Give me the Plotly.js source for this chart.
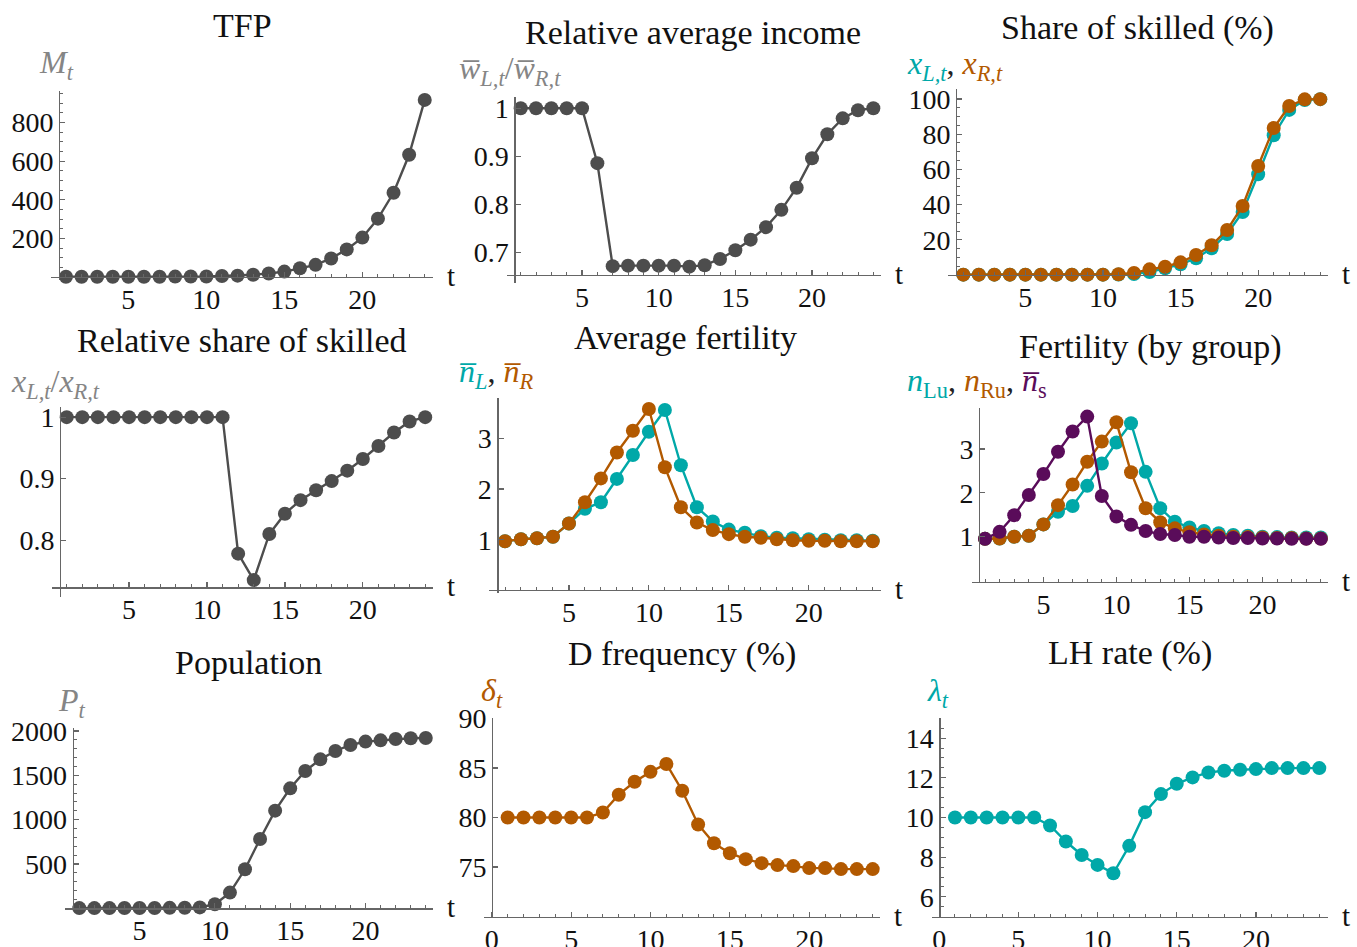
<!DOCTYPE html>
<html><head><meta charset="utf-8">
<script src="https://cdn.plot.ly/plotly-3.0.1.min.js"></script>
<style>body{margin:0;background:#fff}#chart{width:1357px;height:947px}</style>
</head><body><div id="chart"></div>
<script>
// ---------------- data ----------------
const t = [1,2,3,4,5,6,7,8,9,10,11,12,13,14,15,16,17,18,19,20,21,22,23,24];
const tfp = [1,1,1,1,1,1,1.5,2,2.5,3,5,7,12,18,28,45,63,96,143,204,302,436,633,917];
const relIncome = [1,1,1,1,1,0.886,0.672,0.673,0.673,0.673,0.673,0.671,0.674,0.687,0.705,0.727,0.753,0.789,0.835,0.896,0.946,0.979,0.996,1];
const skilledL = [0.2,0.2,0.2,0.2,0.2,0.2,0.2,0.2,0.2,0.2,0.3,0.6,1.7,3.8,6.1,9.5,15.2,23.3,35.8,57.2,79.4,93.8,99.4,99.9];
const skilledR = [0.2,0.2,0.2,0.2,0.2,0.2,0.2,0.2,0.2,0.2,0.4,1.2,3.2,4.7,7.2,11.4,16.9,25.6,39.2,61.9,83.5,96.0,99.8,99.9];
const relSkilled = [1,1,1,1,1,1,1,1,1,1,1,0.778,0.735,0.810,0.843,0.865,0.881,0.896,0.913,0.932,0.953,0.975,0.993,1.0];
const fertL = [0.97,1.01,1.03,1.06,1.32,1.61,1.74,2.20,2.67,3.13,3.56,2.47,1.64,1.36,1.20,1.14,1.07,1.04,1.03,1.01,1.0,0.99,0.99,0.98];
const fertR = [0.97,1.01,1.03,1.06,1.32,1.74,2.21,2.72,3.15,3.58,2.43,1.64,1.34,1.19,1.11,1.06,1.04,1.01,0.99,0.98,0.98,0.97,0.97,0.97];
const fertLu = [0.95,0.96,1.0,1.02,1.28,1.57,1.70,2.16,2.67,3.15,3.59,2.48,1.65,1.34,1.21,1.13,1.08,1.04,1.02,1.0,0.99,0.98,0.98,0.98];
const fertRu = [0.95,0.96,1.0,1.02,1.28,1.72,2.19,2.71,3.17,3.61,2.47,1.65,1.33,1.19,1.10,1.05,1.02,1.0,0.99,0.98,0.97,0.97,0.96,0.96];
const fertS = [0.95,1.11,1.49,1.95,2.43,2.94,3.40,3.74,1.93,1.46,1.27,1.13,1.06,1.04,1.0,1.0,0.98,0.97,0.97,0.96,0.96,0.95,0.95,0.95];
const population = [2,2,2,3,3,4,5,6,10,45,177,440,782,1101,1353,1549,1680,1774,1842,1880,1894,1910,1918,1920];
const dFreq = [80,80,80,80,80,80,80.5,82.3,83.6,84.6,85.4,82.7,79.3,77.4,76.4,75.8,75.4,75.2,75.1,74.9,74.9,74.8,74.8,74.8];
const lhRate = [10,10,10,10,10,10,9.6,8.79,8.11,7.61,7.19,8.57,10.27,11.18,11.70,12.02,12.27,12.36,12.41,12.44,12.49,12.49,12.49,12.49];

const titles = ['TFP','Relative average income','Share of skilled (%)','Relative share of skilled','Average fertility','Fertility (by group)','Population','D frequency (%)','LH rate (%)'];
const xTickVals = [0,5,10,15,20];
const yTickVals = [[200,400,600,800],[0.7,0.8,0.9,1],[20,40,60,80,100],[0.8,0.9,1],[1,2,3],[1,2,3],[500,1000,1500,2000],[75,80,85,90],[6,8,10,12,14]];
const yTickText = [null,['0.7','0.8','0.9','1'],null,['0.8','0.9','1'],null,null,null,null,null];

// ---------------- styles ----------------
const W=1357, H=947;
const FONT='"Liberation Serif", "DejaVu Serif", serif';
const GRAY='#4d4d4d', LGRAY='#858585', CYAN='#00a8a8', ORANGE='#b25900', PURPLE='#5a0c5a', AX='#666666';
const sp = (c,s)=>`<span style="color:${c}">${s}</span>`;
const ov = s=>s+'\u0305';

// panel geometry (pixels): x-axis extent, y-axis extent, axis line positions
const geo = [
 {xL:51,   xR:433,   xr:[0.04,24.53], yAx:59,    xAx:277,   yB:280,   yT:91,    yr:[-15.5,963],  ymin:50},
 {xL:507.3,xR:880.7, xr:[0.126,24.48],yAx:514.3, xAx:275,   yB:283,   yT:96.7,  yr:[0.637,1.024],ymin:null},
 {xL:948.3,xR:1327.7,xr:[0.034,24.48],yAx:956,   xAx:275,   yB:275,   yT:89.3,  yr:[0,105.5],    ymin:5},
 {xL:51.7, xR:433.3, xr:[0.038,24.52],yAx:60,    xAx:587.3, yB:596.7, yT:406.7, yr:[0.708,1.017],ymin:null},
 {xL:489.3,xR:880.7, xr:[0.018,24.5], yAx:497.3, xAx:590,   yB:592.7, yT:398.3, yr:[-0.045,3.79],ymin:null},
 {xL:972.3,xR:1327.7,xr:[0.13,24.47], yAx:979,   xAx:581.7, yB:583.3, yT:408.3, yr:[-0.064,3.93],ymin:null},
 {xL:65,   xR:433.3, xr:[0.05,24.5],  yAx:72.7,  xAx:908.3, yB:909,   yT:728.3, yr:[-8,2030],    ymin:100},
 {xL:484,  xR:880,   xr:[-0.49,24.46],yAx:492,   xAx:916.7, yB:916.7, yT:717.7, yr:[70,90.06],   ymin:null},
 {xL:931.7,xR:1327.7,xr:[-0.47,24.53],yAx:939.3, xAx:916.7, yB:916.7, yT:718.3, yr:[5,15],       ymin:0.5}
];
const titlePos = [[242.7,25],[693,32],[1137.7,28.3],[241.7,341],[685,337.7],[1150,346.7],[248.3,662.3],[681.7,654.3],[1130,653.3]];
const labelPos = [[37,64],[457,70],[905,65],[9,383],[457,373],[905,382],[56,702],[479,692],[925,692]];
const labels = [
 sp(LGRAY,'<i>M</i><sub><i>t</i></sub>'),
 sp(LGRAY,'<i>'+ov('w')+'</i><sub><i>L,t</i></sub>/<i>'+ov('w')+'</i><sub><i>R,t</i></sub>'),
 sp(CYAN,'<i>x</i><sub><i>L,t</i></sub>')+sp('#222',',')+' '+sp(ORANGE,'<i>x</i><sub><i>R,t</i></sub>'),
 sp(LGRAY,'<i>x</i><sub><i>L,t</i></sub>/<i>x</i><sub><i>R,t</i></sub>'),
 sp(CYAN,'<i>'+ov('n')+'</i><sub><i>L</i></sub>')+sp('#222',',')+' '+sp(ORANGE,'<i>'+ov('n')+'</i><sub><i>R</i></sub>'),
 sp(CYAN,'<i>n</i><sub>Lu</sub>')+sp('#222',',')+' '+sp(ORANGE,'<i>n</i><sub>Ru</sub>')+sp('#222',',')+' '+sp(PURPLE,'<i>'+ov('n')+'</i><sub>s</sub>'),
 sp(LGRAY,'<i>P</i><sub><i>t</i></sub>'),
 sp(ORANGE,'<i>δ</i><sub><i>t</i></sub>'),
 sp(CYAN,'<i>λ</i><sub><i>t</i></sub>')
];

// ---------------- traces ----------------
function series(n, y, color){
  const ax = n===1?'':String(n);
  return {x:t, y:y, xaxis:'x'+ax, yaxis:'y'+ax, type:'scatter', mode:'lines+markers',
    line:{color:color, width:2.4}, marker:{color:color, size:14}, cliponaxis:false, hoverinfo:'skip'};
}
const data = [
  series(1, tfp, GRAY),
  series(2, relIncome, GRAY),
  series(3, skilledL, CYAN), series(3, skilledR, ORANGE),
  series(4, relSkilled, GRAY),
  series(5, fertL, CYAN), series(5, fertR, ORANGE),
  series(6, fertLu, CYAN), series(6, fertRu, ORANGE), series(6, fertS, PURPLE),
  series(7, population, GRAY),
  series(8, dFreq, ORANGE),
  series(9, lhRate, CYAN)
];

// ---------------- layout ----------------
const layout = {width:W, height:H, margin:{l:0,r:0,t:0,b:0}, showlegend:false,
  paper_bgcolor:'#fff', plot_bgcolor:'rgba(0,0,0,0)', font:{family:FONT, color:'#111', size:28},
  annotations:[]};
geo.forEach((g,i)=>{
  const n=i+1, ax = n===1?'':String(n);
  layout['xaxis'+ax] = {domain:[g.xL/W, g.xR/W], range:g.xr, anchor:'free', position:1-g.xAx/H,
    showline:true, linecolor:AX, linewidth:1.3, ticks:'inside', ticklen:5, tickwidth:1.2, tickcolor:AX,
    tickmode:'array', tickvals:xTickVals, tickfont:{family:FONT, size:28, color:'#111'}, ticklabelstandoff:-3,
    showgrid:false, zeroline:false, fixedrange:true,
    minor:{tickmode:'linear', tick0:0, dtick:1, ticks:'inside', ticklen:3, tickwidth:1, tickcolor:AX, showgrid:false}};
  const ya = {domain:[1-g.yB/H, 1-g.yT/H], range:g.yr, anchor:'free', position:g.yAx/W,
    showline:true, linecolor:AX, linewidth:1.3, ticks:'inside', ticklen:5, tickwidth:1.2, tickcolor:AX,
    tickmode:'array', tickvals:yTickVals[i], tickfont:{family:FONT, size:28, color:'#111'},
    showgrid:false, zeroline:false, fixedrange:true};
  if (yTickText[i]) ya.ticktext = yTickText[i];
  if (g.ymin) ya.minor = {tickmode:'linear', tick0:0, dtick:g.ymin, ticks:'inside', ticklen:3, tickwidth:1, tickcolor:AX, showgrid:false};
  layout['yaxis'+ax] = ya;
  // title
  layout.annotations.push({xref:'paper', yref:'paper', x:titlePos[i][0]/W, y:1-titlePos[i][1]/H,
    xanchor:'center', yanchor:'middle', showarrow:false, text:titles[i], font:{family:FONT, size:34, color:'#111'}});
  // y label
  layout.annotations.push({xref:'paper', yref:'paper', x:labelPos[i][0]/W, y:1-labelPos[i][1]/H,
    xanchor:'left', yanchor:'middle', showarrow:false, text:labels[i], font:{family:FONT, size:32, color:LGRAY}});
  // "t" axis label
  layout.annotations.push({xref:'paper', yref:'paper', x:(g.xR+18)/W, y:1-(g.xAx-1)/H,
    xanchor:'center', yanchor:'middle', showarrow:false, text:'t', font:{family:FONT, size:29, color:'#111'}});
});

Plotly.newPlot('chart', data, layout, {staticPlot:true, displayModeBar:false});
</script>
</body></html>
